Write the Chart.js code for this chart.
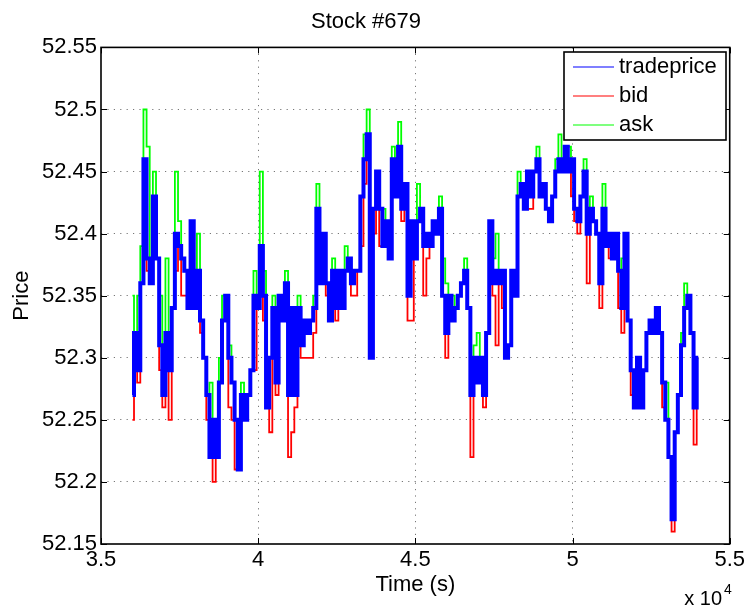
<!DOCTYPE html>
<html>
<head>
<meta charset="utf-8">
<script src="https://cdn.jsdelivr.net/npm/chart.js@4.4.0/dist/chart.umd.min.js"></script>
<style>
  body { margin: 0; background: #fff; }
  #wrap { width: 748px; height: 608px; }
</style>
</head>
<body>
<div id="wrap"><canvas id="chart" width="748" height="608"></canvas></div>
<script>
// time stamps (s)
const times = [
  36000, 36100, 36200, 36300, 36400, 36500, 36600, 36700, 36800, 36900,
  37000, 37100, 37200, 37300, 37400, 37500, 37600, 37700, 37800, 37900,
  38000, 38100, 38200, 38300, 38400, 38500, 38600, 38700, 38800, 38900,
  39000, 39100, 39200, 39300, 39400, 39500, 39600, 39700, 39800, 39900,
  40000, 40100, 40200, 40300, 40400, 40500, 40600, 40700, 40800, 40900,
  41000, 41100, 41200, 41300, 41400, 41500, 41600, 41700, 41800, 41900,
  42000, 42100, 42200, 42300, 42400, 42500, 42600, 42700, 42800, 42900,
  43000, 43100, 43200, 43300, 43400, 43500, 43600, 43700, 43800, 43900,
  44000, 44100, 44200, 44300, 44400, 44500, 44600, 44700, 44800, 44900,
  45000, 45100, 45200, 45300, 45400, 45500, 45600, 45700, 45800, 45900,
  46000, 46100, 46200, 46300, 46400, 46500, 46600, 46700, 46800, 46900,
  47000, 47100, 47200, 47300, 47400, 47500, 47600, 47700, 47800, 47900,
  48000, 48100, 48200, 48300, 48400, 48500, 48600, 48700, 48800, 48900,
  49000, 49100, 49200, 49300, 49400, 49500, 49600, 49700, 49800, 49900,
  50000, 50100, 50200, 50300, 50400, 50500, 50600, 50700, 50800, 50900,
  51000, 51100, 51200, 51300, 51400, 51500, 51600, 51700, 51800, 51900,
  52000, 52100, 52200, 52300, 52400, 52500, 52600, 52700, 52800, 52900,
  53000, 53100, 53200, 53300, 53400, 53500, 53600, 53700, 53800, 53900,
  54000
];

const tradeprice = [
  52.27, 52.32, 52.29, 52.36, 52.46, 52.38, 52.36, 52.43, 52.38, 52.31,
  52.27, 52.32, 52.29, 52.34, 52.40, 52.39, 52.38, 52.37, 52.34, 52.41,
  52.34, 52.37, 52.33, 52.30, 52.27, 52.22, 52.25, 52.22, 52.28, 52.33,
  52.35, 52.30, 52.28, 52.25, 52.21, 52.27, 52.25, 52.27, 52.29, 52.35,
  52.34, 52.39, 52.35, 52.26, 52.30, 52.34, 52.28, 52.35, 52.33, 52.36,
  52.27, 52.34, 52.27, 52.34, 52.31, 52.33, 52.32, 52.33, 52.34, 52.42,
  52.36, 52.40, 52.36, 52.33, 52.37, 52.34, 52.37, 52.34, 52.37, 52.38,
  52.36, 52.37, 52.37, 52.43, 52.46, 52.48, 52.30, 52.42, 52.45, 52.42,
  52.39, 52.41, 52.38, 52.46, 52.43, 52.47, 52.42, 52.44, 52.35, 52.41,
  52.38, 52.41, 52.42, 52.39, 52.40, 52.39, 52.41, 52.40, 52.42, 52.35,
  52.32, 52.35, 52.33, 52.34, 52.35, 52.36, 52.37, 52.34, 52.27, 52.30,
  52.28, 52.30, 52.27, 52.32, 52.41, 52.36, 52.37, 52.36, 52.37, 52.30,
  52.31, 52.37, 52.35, 52.43, 52.44, 52.42, 52.45, 52.43, 52.45, 52.46,
  52.43, 52.44, 52.42, 52.41, 52.43, 52.45, 52.46, 52.45, 52.47, 52.45,
  52.46, 52.42, 52.41, 52.43, 52.45, 52.40, 52.42, 52.41, 52.40, 52.36,
  52.42, 52.39, 52.40, 52.38, 52.40, 52.37, 52.34, 52.40, 52.33, 52.29,
  52.26, 52.30, 52.26, 52.29, 52.32, 52.33, 52.32, 52.34, 52.32, 52.28,
  52.25, 52.22, 52.17, 52.24, 52.27, 52.31, 52.34, 52.35, 52.32, 52.26,
  52.30
];

const bid = [
  52.25, 52.32, 52.28, 52.36, 52.46, 52.37, 52.36, 52.43, 52.38, 52.29,
  52.26, 52.32, 52.25, 52.34, 52.37, 52.39, 52.35, 52.35, 52.34, 52.41,
  52.34, 52.37, 52.32, 52.30, 52.25, 52.22, 52.20, 52.22, 52.28, 52.33,
  52.35, 52.26, 52.25, 52.21, 52.21, 52.27, 52.25, 52.27, 52.29, 52.29,
  52.34, 52.39, 52.33, 52.26, 52.24, 52.34, 52.27, 52.35, 52.33, 52.36,
  52.22, 52.24, 52.26, 52.34, 52.30, 52.30, 52.30, 52.30, 52.32, 52.42,
  52.36, 52.40, 52.35, 52.33, 52.37, 52.33, 52.37, 52.34, 52.37, 52.38,
  52.35, 52.35, 52.37, 52.39, 52.44, 52.48, 52.42, 52.40, 52.45, 52.39,
  52.39, 52.41, 52.38, 52.46, 52.43, 52.47, 52.41, 52.44, 52.33, 52.33,
  52.38, 52.41, 52.42, 52.35, 52.38, 52.39, 52.41, 52.40, 52.42, 52.35,
  52.30, 52.35, 52.33, 52.34, 52.35, 52.36, 52.37, 52.34, 52.22, 52.30,
  52.28, 52.30, 52.26, 52.32, 52.41, 52.35, 52.31, 52.36, 52.34, 52.30,
  52.31, 52.37, 52.35, 52.43, 52.44, 52.42, 52.42, 52.42, 52.45, 52.46,
  52.43, 52.44, 52.42, 52.41, 52.43, 52.45, 52.46, 52.45, 52.47, 52.45,
  52.43, 52.41, 52.40, 52.43, 52.45, 52.36, 52.42, 52.41, 52.40, 52.34,
  52.42, 52.39, 52.38, 52.38, 52.40, 52.34, 52.32, 52.40, 52.33, 52.27,
  52.26, 52.30, 52.26, 52.29, 52.32, 52.33, 52.32, 52.34, 52.32, 52.26,
  52.25, 52.22, 52.16, 52.24, 52.27, 52.31, 52.34, 52.35, 52.32, 52.23,
  52.30
];

const ask = [
  52.35, 52.32, 52.35, 52.39, 52.50, 52.47, 52.36, 52.45, 52.38, 52.35,
  52.27, 52.38, 52.29, 52.34, 52.45, 52.41, 52.38, 52.37, 52.34, 52.41,
  52.34, 52.40, 52.33, 52.30, 52.27, 52.28, 52.25, 52.22, 52.30, 52.35,
  52.35, 52.31, 52.28, 52.25, 52.21, 52.28, 52.25, 52.27, 52.29, 52.37,
  52.34, 52.45, 52.37, 52.26, 52.30, 52.35, 52.28, 52.35, 52.33, 52.37,
  52.27, 52.34, 52.27, 52.35, 52.31, 52.33, 52.32, 52.33, 52.35, 52.44,
  52.36, 52.40, 52.36, 52.33, 52.38, 52.34, 52.37, 52.34, 52.39, 52.38,
  52.36, 52.37, 52.37, 52.43, 52.48, 52.50, 52.42, 52.42, 52.45, 52.42,
  52.42, 52.41, 52.38, 52.47, 52.43, 52.49, 52.42, 52.44, 52.35, 52.41,
  52.38, 52.44, 52.42, 52.39, 52.40, 52.39, 52.41, 52.40, 52.43, 52.38,
  52.36, 52.35, 52.35, 52.34, 52.35, 52.36, 52.38, 52.34, 52.27, 52.31,
  52.32, 52.30, 52.27, 52.32, 52.41, 52.38, 52.40, 52.36, 52.37, 52.30,
  52.31, 52.37, 52.35, 52.45, 52.44, 52.42, 52.45, 52.43, 52.45, 52.47,
  52.43, 52.44, 52.42, 52.41, 52.43, 52.46, 52.48, 52.45, 52.47, 52.47,
  52.46, 52.42, 52.41, 52.43, 52.46, 52.40, 52.43, 52.41, 52.40, 52.36,
  52.44, 52.39, 52.40, 52.38, 52.40, 52.37, 52.38, 52.40, 52.33, 52.29,
  52.26, 52.30, 52.26, 52.29, 52.32, 52.33, 52.32, 52.34, 52.32, 52.28,
  52.28, 52.22, 52.17, 52.24, 52.27, 52.32, 52.36, 52.35, 52.32, 52.26,
  52.30
];

const xTicks = [35000, 40000, 45000, 50000, 55000];
const yTicks = [52.15, 52.2, 52.25, 52.3, 52.35, 52.4, 52.45, 52.5, 52.55];

const FONT = "'Liberation Sans', Arial, Helvetica, sans-serif";

function isEdge(value, list) {
    return Math.abs(value - list[0]) < 1e-6 || Math.abs(value - list[list.length - 1]) < 1e-6;
}

// MATLAB-like box, inner tick marks, legend and the x10^4 multiplier
const matlabFrame = {
    id: 'matlabFrame',
    afterDraw(chart) {
        const ctx = chart.ctx;
        const a = chart.chartArea;
        const xs = chart.scales.x;
        const ys = chart.scales.y;
        ctx.save();

        // tick marks inside the box
        ctx.strokeStyle = '#000';
        ctx.lineWidth = 1;
        const tl = 6;
        xTicks.forEach(function(v) {
            const px = Math.round(xs.getPixelForValue(v)) + 0.5;
            ctx.beginPath();
            ctx.moveTo(px, a.bottom); ctx.lineTo(px, a.bottom - tl);
            ctx.moveTo(px, a.top); ctx.lineTo(px, a.top + tl);
            ctx.stroke();
        });
        yTicks.forEach(function(v) {
            const py = Math.round(ys.getPixelForValue(v)) + 0.5;
            ctx.beginPath();
            ctx.moveTo(a.left, py); ctx.lineTo(a.left + tl, py);
            ctx.moveTo(a.right, py); ctx.lineTo(a.right - tl, py);
            ctx.stroke();
        });

        // axes box
        ctx.lineWidth = 1.6;
        ctx.strokeRect(a.left, a.top, a.right - a.left, a.bottom - a.top);

        // legend
        const lx = 564, ly = 52, lw = 162, lh = 88;
        ctx.fillStyle = '#fff';
        ctx.fillRect(lx, ly, lw, lh);
        ctx.lineWidth = 1.6;
        ctx.strokeStyle = '#000';
        ctx.strokeRect(lx, ly, lw, lh);
        ctx.font = '22px ' + FONT;
        ctx.textBaseline = 'middle';
        ctx.textAlign = 'left';
        chart.data.datasets.forEach(function(ds, i) {
            const cy = ly + 15 + i * 29;
            ctx.strokeStyle = ds.borderColor;
            ctx.lineWidth = 1.2;
            ctx.beginPath();
            ctx.moveTo(lx + 9, cy);
            ctx.lineTo(lx + 50, cy);
            ctx.stroke();
            ctx.fillStyle = '#000';
            ctx.fillText(ds.label, lx + 55, cy);
        });

        // exponent label under the x axis
        ctx.fillStyle = '#000';
        ctx.textBaseline = 'alphabetic';
        ctx.textAlign = 'right';
        ctx.font = '20px ' + FONT;
        ctx.fillText('x 10', 722, 605);
        ctx.textAlign = 'left';
        ctx.font = '14px ' + FONT;
        ctx.fillText('4', 724, 594);

        ctx.restore();
    }
};

new Chart(document.getElementById('chart').getContext('2d'), {
    type: 'line',
    data: {
        labels: times,
        datasets: [{
            label: 'tradeprice',
            data: tradeprice,
            borderColor: '#0000ff',
            borderWidth: 4,
            pointRadius: 0,
            stepped: 'middle'
        }, {
            label: 'bid',
            data: bid,
            borderColor: '#ff0000',
            borderWidth: 1.8,
            pointRadius: 0,
            stepped: 'middle'
        }, {
            label: 'ask',
            data: ask,
            borderColor: '#00ff00',
            borderWidth: 1.8,
            pointRadius: 0,
            stepped: 'middle'
        }]
    },
    options: {
        responsive: false,
        animation: false,
        layout: { padding: { left: 0, right: 16, top: 0, bottom: 0 } },
        plugins: {
            legend: { display: false },
            tooltip: { enabled: false },
            title: {
                display: true,
                text: 'Stock #679',
                color: '#000',
                font: { family: FONT, size: 22, weight: 'normal' },
                padding: { top: 9, bottom: 12 }
            }
        },
        scales: {
            x: {
                type: 'linear',
                min: 35000,
                max: 55000,
                afterFit: function(scale) { scale.height = 64; },
                afterBuildTicks: function(scale) {
                    scale.ticks = xTicks.map(function(v) { return { value: v }; });
                },
                ticks: {
                    color: '#000',
                    padding: 3,
                    maxRotation: 0,
                    font: { family: FONT, size: 22 },
                    callback: function(v) { return String(v / 10000); }
                },
                grid: {
                    drawTicks: false,
                    lineWidth: 1,
                    color: function(c) {
                        return (c.tick && isEdge(c.tick.value, xTicks)) ? 'rgba(0,0,0,0)' : '#777';
                    }
                },
                border: { display: false, dash: [1.2, 5.2] },
                title: {
                    display: true,
                    text: 'Time (s)',
                    color: '#000',
                    font: { family: FONT, size: 22 },
                    padding: { top: 0, bottom: 10 }
                }
            },
            y: {
                min: 52.15,
                max: 52.55,
                afterFit: function(scale) { scale.width = 101; },
                afterBuildTicks: function(scale) {
                    scale.ticks = yTicks.map(function(v) { return { value: v }; });
                },
                ticks: {
                    color: '#000',
                    padding: 4,
                    font: { family: FONT, size: 22 },
                    callback: function(v) { return String(+v.toFixed(2)); }
                },
                grid: {
                    drawTicks: false,
                    lineWidth: 1,
                    color: function(c) {
                        return (c.tick && isEdge(c.tick.value, yTicks)) ? 'rgba(0,0,0,0)' : '#777';
                    }
                },
                border: { display: false, dash: [1.2, 5.2] },
                title: {
                    display: true,
                    text: 'Price',
                    color: '#000',
                    font: { family: FONT, size: 22 },
                    padding: { top: 9, bottom: 0 }
                }
            }
        }
    },
    plugins: [matlabFrame]
});
</script>
</body>
</html>
